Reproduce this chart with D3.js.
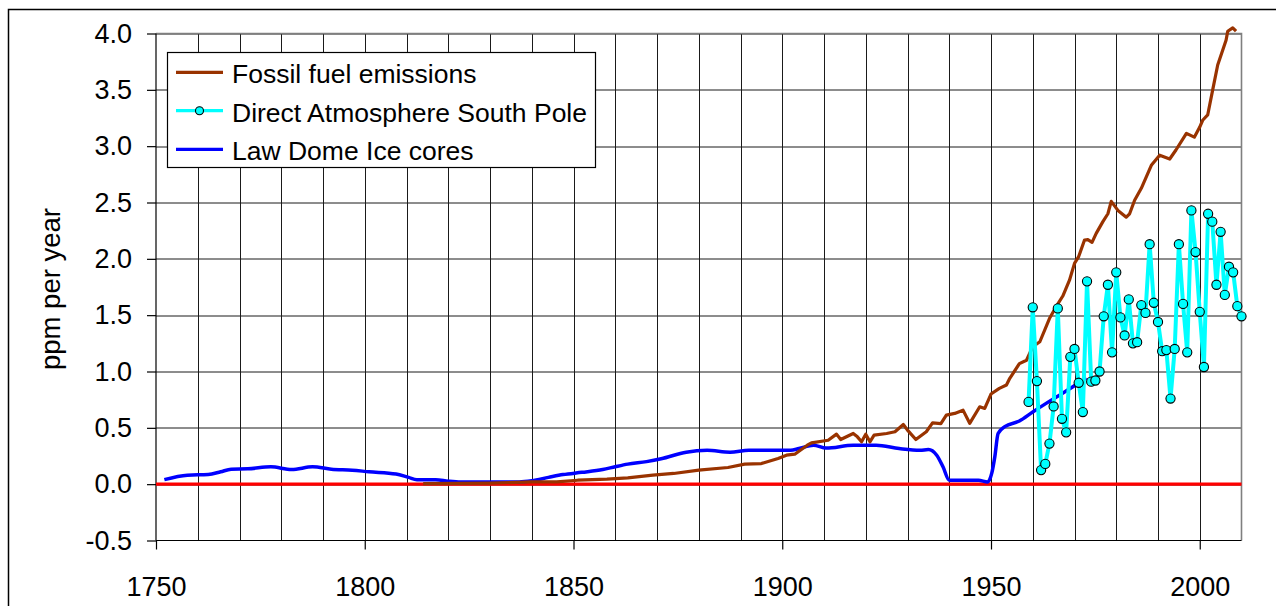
<!DOCTYPE html>
<html>
<head>
<meta charset="utf-8">
<script src="https://cdn.jsdelivr.net/npm/d3@7"></script>
<style>
    body { margin: 0; background: #fff; }
    text { font-family: "Liberation Sans", Arial, sans-serif; fill: #000; }
</style>
</head>
<body>
<div id="chart"></div>
<script>
// tick labels
const yTicks = [-0.5, 0.0, 0.5, 1.0, 1.5, 2.0, 2.5, 3.0, 3.5, 4.0];
const xTicks = [1750, 1800, 1850, 1900, 1950, 2000];
const xGrid = [1760, 1770, 1780, 1790, 1800, 1810, 1820, 1830, 1840, 1850, 1860, 1870, 1880, 1890,
    1900, 1910, 1920, 1930, 1940, 1950, 1960, 1970, 1980, 1990, 2000];

const seriesNames = ["Fossil fuel emissions", "Direct Atmosphere South Pole", "Law Dome Ice cores"];

// Fossil fuel emissions (ppm/yr)
const fossilYears = [1814, 1830, 1840, 1846, 1851, 1858, 1863, 1869, 1874, 1880, 1887, 1891, 1895, 1899,
    1901, 1903, 1906, 1907, 1911, 1913, 1914, 1917, 1918, 1919, 1920, 1921, 1922, 1925, 1927, 1929,
    1930, 1932, 1934.5, 1936, 1938, 1939.3, 1941.3, 1943.3, 1944.9, 1947.3, 1948.5, 1950, 1952, 1953.7,
    1954.5, 1956.8, 1958.5, 1960, 1961.7, 1964, 1965.6, 1967.2, 1968.8, 1970, 1971, 1972.4, 1973.2,
    1974.2, 1975.2, 1976.8, 1978, 1978.8, 1980.4, 1982.4, 1983.2, 1984.4, 1986, 1988.4, 1990.4, 1992.8,
    1994.3, 1996.8, 1998.7, 2000, 2000.7, 2001.9, 2003.1, 2004.3, 2006.3, 2006.7, 2007.9, 2008.7];
const fossilValues = [0.005, 0.01, 0.02, 0.02, 0.035, 0.044, 0.056, 0.08, 0.095, 0.124, 0.148, 0.178, 0.183, 0.228,
    0.257, 0.266, 0.346, 0.367, 0.39, 0.444, 0.396, 0.45, 0.42, 0.376, 0.444, 0.376, 0.435, 0.45, 0.465, 0.53,
    0.48, 0.396, 0.465, 0.544, 0.538, 0.613, 0.628, 0.657, 0.54, 0.687, 0.672, 0.80, 0.85, 0.88,
    0.94, 1.07, 1.10, 1.22, 1.264, 1.47, 1.575, 1.67, 1.81, 1.96, 2.02, 2.167, 2.17,
    2.146, 2.226, 2.33, 2.40, 2.51, 2.43, 2.37, 2.40, 2.52, 2.626, 2.83, 2.92, 2.886,
    2.966, 3.114, 3.08, 3.17, 3.23, 3.277, 3.50, 3.72, 3.94, 4.02, 4.05, 4.02];

// Direct Atmosphere South Pole (ppm/yr)
const poleYears = [1959, 1960, 1961, 1962, 1963, 1964, 1965, 1966, 1967, 1968, 1969, 1970, 1971, 1972, 1973,
    1974, 1975, 1976, 1977, 1978, 1979, 1980, 1981, 1982, 1983, 1984, 1985, 1986, 1987, 1988, 1989, 1990,
    1991, 1992, 1993, 1994, 1995, 1996, 1997, 1998, 1999, 2000, 2001, 2002, 2003, 2004, 2005, 2006, 2007,
    2008, 2009, 2010];
const poleValues = [0.73, 1.57, 0.915, 0.125, 0.18, 0.36, 0.69, 1.56, 0.58, 0.46, 1.13, 1.20, 0.90, 0.64, 1.80,
    0.91, 0.92, 1.00, 1.49, 1.77, 1.17, 1.88, 1.48, 1.32, 1.64, 1.25, 1.26, 1.59, 1.52, 2.13, 1.61, 1.44,
    1.18, 1.19, 0.76, 1.20, 2.13, 1.60, 1.17, 2.43, 2.06, 1.53, 1.04, 2.40, 2.33, 1.77, 2.24, 1.68, 1.93,
    1.88, 1.58, 1.49];

// Law Dome Ice cores (ppm/yr)
const iceYears = [1752, 1757.5, 1762.5, 1765.5, 1768, 1772, 1777.5, 1782.5, 1787.5, 1792, 1797, 1801, 1807.5,
    1810.5, 1812.5, 1817, 1820, 1823, 1837, 1840, 1844, 1847.5, 1852, 1857, 1860, 1863, 1867.5, 1871, 1877,
    1882, 1887.5, 1892, 1902, 1904, 1907.5, 1910.5, 1917, 1922.5, 1928, 1933, 1935, 1937, 1938.5, 1940,
    1947, 1949.2, 1950.2, 1950.9, 1951.7, 1953.3, 1956.8, 1960, 1963.2, 1966.4, 1969.6, 1972.8];
const iceValues = [0.04, 0.08, 0.085, 0.11, 0.133, 0.136, 0.154, 0.13, 0.154, 0.133, 0.124, 0.11, 0.09,
    0.06, 0.04, 0.04, 0.027, 0.02, 0.02, 0.03, 0.06, 0.085, 0.105, 0.13, 0.155, 0.178, 0.2, 0.225, 0.284,
    0.30, 0.284, 0.30, 0.30, 0.316, 0.346, 0.32, 0.346, 0.346, 0.316, 0.30, 0.308, 0.257, 0.154, 0.035,
    0.035, 0.02, 0.10, 0.24, 0.45, 0.51, 0.56, 0.64, 0.717, 0.79, 0.864, 0.944];

const zeroYears = [1750, 2010];
const zeroValues = [0, 0];

function toPoints(years, values) {
    return years.map(function (yr, i) {
        return {year: yr, value: values[i]};
    });
}

function renderChart() {
    const W = 1276, H = 606;
    const margin = {top: 33.5, right: 34.5, bottom: 65.5, left: 156};
    const width = W - margin.left - margin.right,
        height = H - margin.top - margin.bottom;

    const svg = d3.select("#chart")
        .append("svg")
        .attr("width", W)
        .attr("height", H);

    // outer chart frame
    svg.append("rect")
        .attr("x", 8.5)
        .attr("y", 9.5)
        .attr("width", W + 20)
        .attr("height", H + 20)
        .attr("fill", "#fff")
        .attr("stroke", "#000")
        .attr("stroke-width", 1.5);

    const g = svg.append("g")
        .attr("transform", "translate(" + margin.left + "," + margin.top + ")");

    const x = d3.scaleLinear()
        .domain([1750, 2010])
        .range([0, width]);
    const y = d3.scaleLinear()
        .domain([-0.5, 4.0])
        .range([height, 0]);

    // grid
    g.append("g")
        .selectAll("line")
        .data(yTicks.filter(d => d > -0.5))
        .enter()
        .append("line")
        .attr("x1", 0)
        .attr("x2", width)
        .attr("y1", d => Math.round(y(d)) + 0.5)
        .attr("y2", d => Math.round(y(d)) + 0.5)
        .attr("stroke", "#1a1a1a")
        .attr("stroke-width", 1);
    g.append("g")
        .selectAll("line")
        .data(xGrid)
        .enter()
        .append("line")
        .attr("x1", d => Math.round(x(d)) + 0.5)
        .attr("x2", d => Math.round(x(d)) + 0.5)
        .attr("y1", 0)
        .attr("y2", height)
        .attr("stroke", "#1a1a1a")
        .attr("stroke-width", 1);

    // plot border (top / right)
    g.append("path")
        .attr("d", "M0,0H" + width + "V" + height)
        .attr("fill", "none")
        .attr("stroke", "#7f7f7f")
        .attr("stroke-width", 1.6);

    // axes
    const yAxis = g.append("g")
        .call(d3.axisLeft(y).tickValues(yTicks).tickSize(9).tickPadding(15)
            .tickFormat(d => d.toFixed(1)));
    const xAxis = g.append("g")
        .attr("transform", "translate(0," + height + ")")
        .call(d3.axisBottom(x).tickValues(xTicks).tickSize(9).tickPadding(27)
            .tickFormat(d3.format("d")));
    [yAxis, xAxis].forEach(function (ax) {
        ax.select(".domain").attr("stroke", "#000").attr("stroke-width", 1.2);
        ax.selectAll(".tick line").attr("stroke", "#000").attr("stroke-width", 1.2);
        ax.selectAll(".tick text")
            .style("font-size", "27px")
            .attr("fill", "#000")
            .style("font-family", "'Liberation Sans', Arial, sans-serif");
    });
    yAxis.select(".domain").attr("d", "M0,0V" + height);
    xAxis.select(".domain").attr("d", "M0,0H" + width);

    const line = d3.line()
        .x(d => x(d.year))
        .y(d => y(d.value));

    // zero line
    g.append("path")
        .datum(toPoints(zeroYears, zeroValues))
        .attr("d", line)
        .attr("fill", "none")
        .attr("stroke", "#ff0000")
        .attr("stroke-width", 3.2);

    // Law Dome
    g.append("path")
        .datum(toPoints(iceYears, iceValues))
        .attr("d", line.curve(d3.curveMonotoneX))
        .attr("fill", "none")
        .attr("stroke", "#0000ff")
        .attr("stroke-width", 3.5)
        .attr("stroke-linejoin", "round");
    line.curve(d3.curveLinear);

    // Fossil fuel
    g.append("path")
        .datum(toPoints(fossilYears, fossilValues))
        .attr("d", line)
        .attr("fill", "none")
        .attr("stroke", "#993300")
        .attr("stroke-width", 3.2)
        .attr("stroke-linejoin", "round");

    // South Pole
    const poleData = toPoints(poleYears, poleValues);
    g.append("path")
        .datum(poleData)
        .attr("d", line)
        .attr("fill", "none")
        .attr("stroke", "#00ffff")
        .attr("stroke-width", 4)
        .attr("stroke-linejoin", "round");
    g.append("g")
        .selectAll("circle")
        .data(poleData)
        .enter()
        .append("circle")
        .attr("cx", d => x(d.year))
        .attr("cy", d => y(d.value))
        .attr("r", 4.6)
        .attr("fill", "#00ffff")
        .attr("stroke", "#000")
        .attr("stroke-width", 1.1);

    // y title
    svg.append("text")
        .attr("transform", "translate(60,289) rotate(-90)")
        .attr("text-anchor", "middle")
        .style("font-size", "27.5px")
        .text("ppm per year");

    renderLegend(svg);
}

function renderLegend(svg) {
    const lg = svg.append("g");
    lg.append("rect")
        .attr("x", 167.5)
        .attr("y", 52.5)
        .attr("width", 428)
        .attr("height", 115)
        .attr("fill", "#fff")
        .attr("stroke", "#000")
        .attr("stroke-width", 1.2);
    const colors = ["#993300", "#00ffff", "#0000ff"];
    const rowY = [72.3, 110.7, 149.3];
    seriesNames.forEach(function (name, i) {
        lg.append("line")
            .attr("x1", 176)
            .attr("x2", 223)
            .attr("y1", rowY[i])
            .attr("y2", rowY[i])
            .attr("stroke", colors[i])
            .attr("stroke-width", 3.2);
        if (i === 1) {
            lg.append("circle")
                .attr("cx", 199.5)
                .attr("cy", rowY[i])
                .attr("r", 4)
                .attr("fill", "#00ffff")
                .attr("stroke", "#000")
                .attr("stroke-width", 1.1);
        }
        lg.append("text")
            .attr("x", 232)
            .attr("y", rowY[i] + 11)
            .style("font-size", "26.5px")
            .text(name);
    });
}

renderChart();
</script>
</body>
</html>
